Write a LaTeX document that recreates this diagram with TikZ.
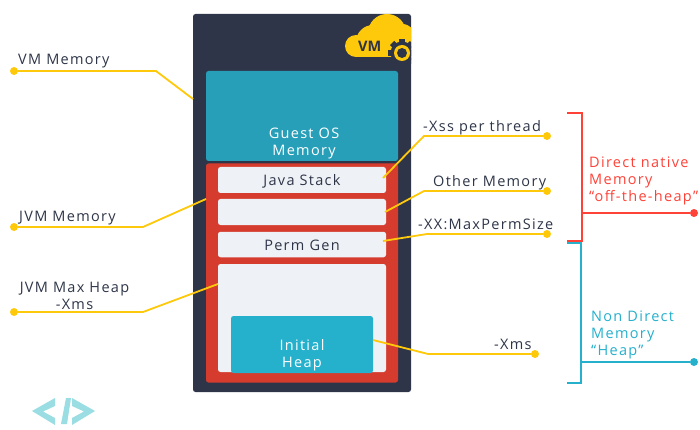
\documentclass[tikz,border=0pt]{standalone}
\usepackage{fontspec}
\setmainfont[LetterSpace=9]{Open Sans}
\usetikzlibrary{positioning}
\definecolor{vmdark}{HTML}{2E3548}
\definecolor{vmteal}{HTML}{279FB8}
\definecolor{vmred}{HTML}{D63C2E}
\definecolor{vmlight}{HTML}{EEF1F5}
\definecolor{vmblue}{HTML}{25B0CC}
\definecolor{vmyellow}{HTML}{FFC90B}
\definecolor{vmbright}{HTML}{FF4238}
\definecolor{vmtag}{HTML}{9ADDE3}
\tikzset{
  box/.style={inner sep=0pt, rounded corners=2.5pt, text=vmdark, text height=11pt, text depth=0pt, font=\fontsize{14.5}{17}\selectfont},
  lbl/.style={inner sep=0pt, anchor=base west, text=vmdark, font=\fontsize{14.5}{17}\selectfont},
  inlbl/.style={inner sep=0pt, anchor=center, align=center, text=white, font=\fontsize{14.5}{17}\selectfont},
  dot/.style={circle, inner sep=0pt, minimum size=8pt, fill=#1},
  leader/.style={draw=vmyellow, line width=1.8pt},
  brace/.style={draw=#1, line width=1.8pt}
}
\begin{document}
\begin{tikzpicture}[x=1pt, y=-1pt]
    \useasboundingbox (0,0) rectangle (700,430);

    \node[box, fill=vmdark, minimum width=218pt, minimum height=378pt] (vmbox) at (302,203) {};
    \node[box, fill=vmteal, minimum width=192pt, minimum height=90pt] (guestbox) at (302,116) {};
    \node[box, fill=vmred, minimum width=192pt, minimum height=219pt] (jvmbox) at (302,273) {};
    \node[box, fill=vmlight, minimum width=168pt, minimum height=26pt] (stackbox) at (302,180) {Java Stack};
    \node[box, fill=vmlight, minimum width=168pt, minimum height=26pt] (otherbox) at (302,212) {};
    \node[box, fill=vmlight, minimum width=168pt, minimum height=25.5pt] (permbox) at (302,244.5) {Perm Gen};
    \node[box, fill=vmlight, minimum width=168pt, minimum height=108pt] (heapbox) at (302,318) {};
    \node[box, fill=vmblue, minimum width=142pt, minimum height=57pt] (initbox) at (302,344.5) {};

    \node[inlbl] (guestlbl) at (304,143) {Guest OS\\Memory};
    \node[inlbl] (initlbl) at (302,355) {Initial\\Heap};

    \begin{scope}
      \clip (193,14) rectangle (411,57);
      \fill[vmyellow] (356,46) circle (11);
      \fill[vmyellow] (373,42) circle (17);
      \fill[vmyellow] (387,33) circle (19);
      \fill[vmyellow] (402,38) circle (14);
      \fill[vmyellow] (356,40) rectangle (411,57);
    \end{scope}
    \begin{scope}
      \clip (193,14) rectangle (411,80);
      \foreach \a in {0,45,...,315}
        \fill[vmdark, rotate around={\a:(402,53)}] (399,39) rectangle (405,45);
      \fill[vmdark] (402,53) circle (11.5);
      \fill[vmyellow] (402,53) circle (8);
      \fill[vmdark] (402,53) circle (5);
    \end{scope}
    \node[lbl, font=\fontsize{14.5}{17}\selectfont\bfseries\addfontfeature{LetterSpace=0}] (vmlbl) at (358,52) {VM};

    \node[lbl] (vmmem) at (18,65) {VM Memory};
    \node[lbl] (jvmmem) at (19,221.7) {JVM Memory};
    \node[lbl, anchor=center, align=center] (maxheap) at (74.5,296) {JVM Max Heap\\-Xms};
    \node[lbl] (xsslbl) at (423,132) {-Xss per thread};
    \node[lbl] (otherlbl) at (433,187) {Other Memory};
    \node[lbl] (permlbl) at (418,229) {-XX:MaxPermSize};
    \node[lbl] (xmslbl) at (494,349) {-Xms};

    \node[dot=vmyellow] (vmdot) at (14,71) {};
    \node[dot=vmyellow] (jvmdot) at (14,227) {};
    \node[dot=vmyellow] (maxdot) at (14,312) {};
    \node[dot=vmyellow] (xssdot) at (547,136) {};
    \node[dot=vmyellow] (otherdot) at (547,191) {};
    \node[dot=vmyellow] (permdot) at (547,234) {};
    \node[dot=vmyellow] (xmsdot) at (535,354) {};

    \coordinate (vmbend) at (156,71);
    \coordinate (vmend) at (193,99);
    \coordinate (jvmbend) at (143,227);
    \coordinate (jvmend) at (206,199);
    \coordinate (maxbend) at (143,312);
    \coordinate (maxend) at (218,284);
    \coordinate (xssbend) at (424,136);
    \coordinate (xssend) at (383,178);
    \coordinate (otherbend) at (424,191);
    \coordinate (otherend) at (385,212);
    \coordinate (permbend) at (427,234);
    \coordinate (permend) at (383,241);
    \coordinate (xmsbend) at (428,354);
    \coordinate (xmsend) at (373,340);

    \draw[leader] (vmdot) -- (vmbend) -- (vmend);
    \draw[leader] (jvmdot) -- (jvmbend) -- (jvmend);
    \draw[leader] (maxdot) -- (maxbend) -- (maxend);
    \draw[leader] (xssdot) -- (xssbend) -- (xssend);
    \draw[leader] (otherdot) -- (otherbend) -- (otherend);
    \draw[leader] (permdot) -- (permbend) -- (permend);
    \draw[leader] (xmsdot) -- (xmsbend) -- (xmsend);

    \coordinate (redtop) at (567,113);
    \coordinate (redcorner) at (582,113);
    \coordinate (redlow) at (582,241);
    \coordinate (redbot) at (567,241);
    \coordinate (redstem) at (582,213);
    \node[dot=vmbright] (reddot) at (694,213) {};
    \draw[brace=vmbright] (redtop) -- (redcorner) -- (redlow) -- (redbot);
    \draw[brace=vmbright] (redstem) -- (reddot);

    \coordinate (bluetop) at (567,243);
    \coordinate (bluecorner) at (581,243);
    \coordinate (bluelow) at (581,383);
    \coordinate (bluebot) at (567,383);
    \coordinate (bluestem) at (581,362);
    \node[dot=vmblue] (bluedot) at (694,362) {};
    \draw[brace=vmblue] (bluetop) -- (bluecorner) -- (bluelow) -- (bluebot);
    \draw[brace=vmblue] (bluestem) -- (bluedot);

    \node[lbl, anchor=west, align=left, text=vmbright] (directlbl) at (589,181) {Direct native\\Memory\\``off-the-heap''};
    \node[lbl, anchor=west, align=left, text=vmblue] (nondirectlbl) at (591,335) {Non Direct\\Memory\\``Heap''};

    \fill[vmtag] (32,411) -- (55,398) -- (55,406) -- (43,411.5) -- (55,418) -- (55,425) -- cycle;
    \fill[vmtag] (66,398) -- (71,398) -- (67,424) -- (61,424) -- cycle;
    \fill[vmtag] (72,398) -- (95,411) -- (72,425) -- (72,418) -- (84,411.5) -- (72,406) -- cycle;
\end{tikzpicture}
\end{document}
